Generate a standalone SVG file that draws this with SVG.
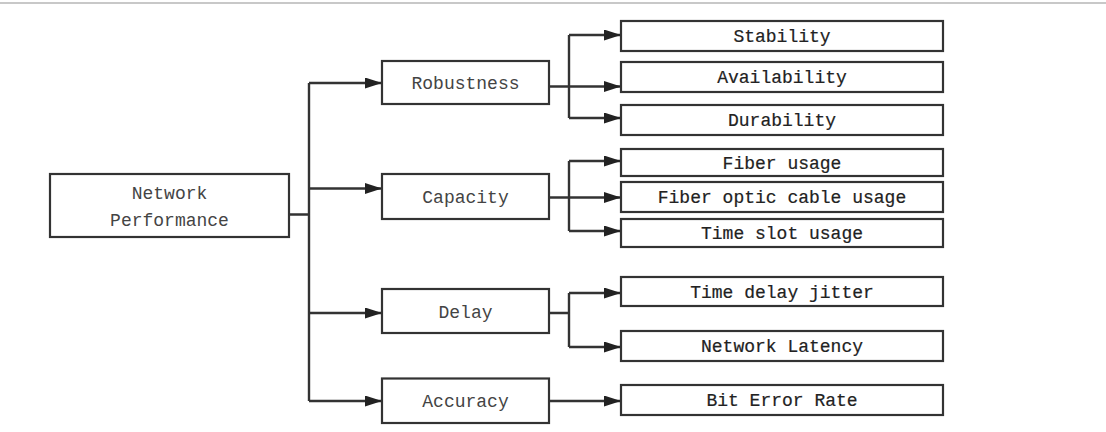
<svg xmlns="http://www.w3.org/2000/svg" width="1106" height="432" viewBox="0 0 1106 432">
<style>
.box{fill:#fff;stroke:#333;stroke-width:2.2}
.ln{fill:none;stroke:#333;stroke-width:2.4}
.t{font-family:"Liberation Mono",monospace;font-size:18px;text-anchor:middle;fill:#444}
.tr{font-family:"Liberation Mono",monospace;font-size:18px;text-anchor:middle;fill:#222;stroke:#222;stroke-width:0.2}
</style>
<defs>
<marker id="ah" markerUnits="userSpaceOnUse" markerWidth="17" markerHeight="11" refX="17" refY="5.5" orient="auto">
<path d="M0,0 L17,5.5 L0,11 z" fill="#222"/>
</marker>
</defs>
<rect x="0" y="2" width="1106" height="2" fill="#c8c8c8"/>
<g id="connectors">
<path class="ln" d="M289,214.5 H309 M309,83 V401"/>
<path class="ln" d="M309,83 H382" marker-end="url(#ah)"/>
<path class="ln" d="M309,188.5 H382" marker-end="url(#ah)"/>
<path class="ln" d="M309,313 H382" marker-end="url(#ah)"/>
<path class="ln" d="M309,401 H382" marker-end="url(#ah)"/>
<path class="ln" d="M569,35 V118"/>
<path class="ln" d="M569,35 H621" marker-end="url(#ah)"/>
<path class="ln" d="M549,86.5 H621" marker-end="url(#ah)"/>
<path class="ln" d="M569,118 H621" marker-end="url(#ah)"/>
<path class="ln" d="M569,161 V231"/>
<path class="ln" d="M569,161 H621" marker-end="url(#ah)"/>
<path class="ln" d="M549,197.5 H621" marker-end="url(#ah)"/>
<path class="ln" d="M569,231 H621" marker-end="url(#ah)"/>
<path class="ln" d="M549,313 H569 M569,293 V347"/>
<path class="ln" d="M569,293 H621" marker-end="url(#ah)"/>
<path class="ln" d="M569,347 H621" marker-end="url(#ah)"/>
<path class="ln" d="M549,401 H621" marker-end="url(#ah)"/>
</g>
<g id="network-performance">
<rect class="box" x="50" y="174" width="239" height="63"/>
<text class="t" x="169.5" y="199">Network</text>
<text class="t" x="169.5" y="226">Performance</text>
</g>
<g id="robustness">
<rect class="box" x="382" y="61" width="167" height="43"/>
<text class="t" x="465.5" y="89">Robustness</text>
</g>
<g id="capacity">
<rect class="box" x="382" y="174" width="167" height="45"/>
<text class="t" x="465.5" y="203">Capacity</text>
</g>
<g id="delay">
<rect class="box" x="382" y="289" width="167" height="44"/>
<text class="t" x="465.5" y="318">Delay</text>
</g>
<g id="accuracy">
<rect class="box" x="382" y="378.5" width="167" height="44.5"/>
<text class="t" x="465.5" y="407">Accuracy</text>
</g>
<g id="stability">
<rect class="box" x="621" y="21" width="322" height="30"/>
<text class="tr" x="782" y="42">Stability</text>
</g>
<g id="availability">
<rect class="box" x="621" y="62" width="322" height="30"/>
<text class="tr" x="782" y="83">Availability</text>
</g>
<g id="durability">
<rect class="box" x="621" y="105" width="322" height="30"/>
<text class="tr" x="782" y="126">Durability</text>
</g>
<g id="fiber-usage">
<rect class="box" x="621" y="149" width="322" height="27"/>
<text class="tr" x="782" y="169">Fiber usage</text>
</g>
<g id="fiber-optic-cable-usage">
<rect class="box" x="621" y="182" width="322" height="30"/>
<text class="tr" x="782" y="203">Fiber optic cable usage</text>
</g>
<g id="time-slot-usage">
<rect class="box" x="621" y="219" width="322" height="28"/>
<text class="tr" x="782" y="239">Time slot usage</text>
</g>
<g id="time-delay-jitter">
<rect class="box" x="621" y="277" width="322" height="29"/>
<text class="tr" x="782" y="298">Time delay jitter</text>
</g>
<g id="network-latency">
<rect class="box" x="621" y="331" width="322" height="30"/>
<text class="tr" x="782" y="352">Network Latency</text>
</g>
<g id="bit-error-rate">
<rect class="box" x="621" y="385" width="322" height="30"/>
<text class="tr" x="782" y="406">Bit Error Rate</text>
</g>
</svg>
